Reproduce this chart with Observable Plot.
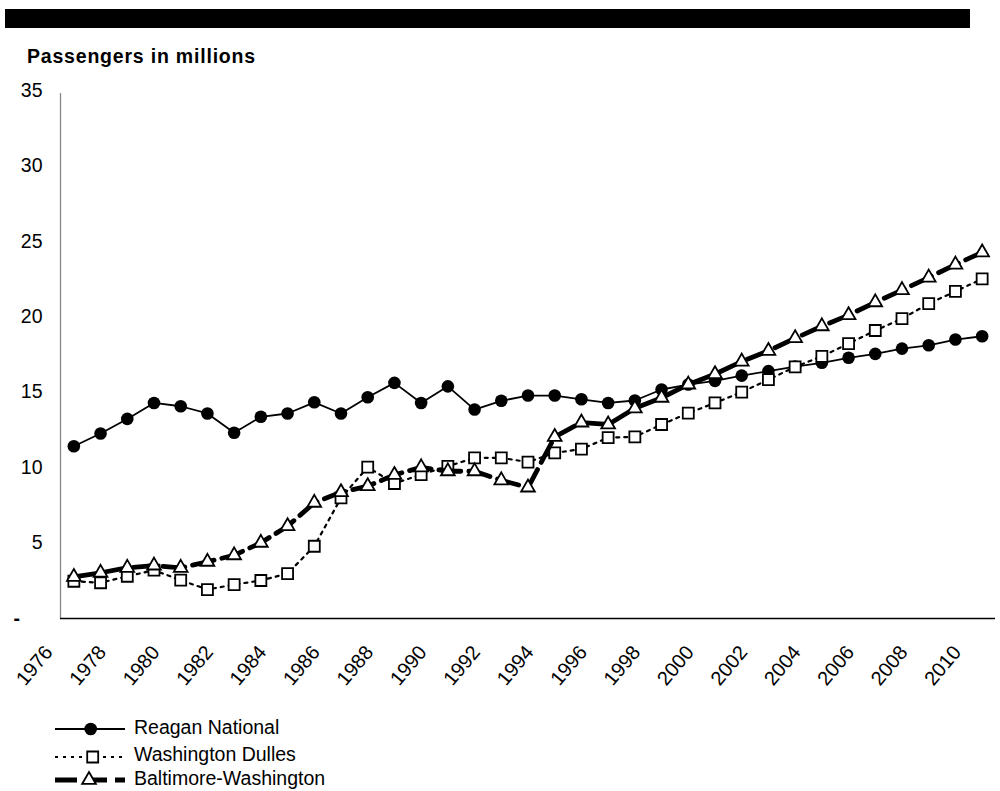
<!DOCTYPE html>
<html><head><meta charset="utf-8">
<script src="https://cdn.jsdelivr.net/npm/d3@7"></script>
<script src="https://cdn.jsdelivr.net/npm/@observablehq/plot@0.6"></script>
<style>
body{margin:0;background:#fff;font-family:"Liberation Sans",Arial,sans-serif;}
#wrap{position:relative;width:1000px;height:791px;overflow:hidden;background:#fff;}
#bar{position:absolute;left:5px;top:9px;width:965px;height:19px;background:#000;}
#title{position:absolute;left:27px;top:45px;font-weight:bold;font-size:19.5px;letter-spacing:0.8px;line-height:1.15;color:#000;}
#chart{position:absolute;left:0;top:0;}
#legend{position:absolute;left:0;top:705px;}
</style></head><body>
<div id="wrap"><div id="chart"></div><div id="bar"></div><div id="title">Passengers in millions</div><svg id="legend" width="400" height="86"></svg></div>
<script>
const years = d3.range(1976, 2011);
const seriesNames = ["Reagan National", "Washington Dulles", "Baltimore-Washington"];
const reagan = [11.42,12.26,13.23,14.29,14.07,13.59,12.31,13.37,13.59,14.33,13.59,14.67,15.62,14.29,15.39,13.85,14.43,14.78,14.78,14.53,14.29,14.45,15.18,15.51,15.75,16.10,16.40,16.70,16.95,17.28,17.54,17.89,18.11,18.49,18.71];
const dulles = [2.47,2.37,2.80,3.20,2.54,1.92,2.25,2.52,2.98,4.79,7.99,10.03,8.95,9.54,10.09,10.65,10.65,10.37,10.98,11.23,11.99,12.04,12.86,13.61,14.29,15.00,15.84,16.68,17.38,18.22,19.09,19.88,20.87,21.69,22.51];
const bwi = [2.76,3.03,3.36,3.51,3.36,3.76,4.19,5.02,6.12,7.67,8.37,8.77,9.52,10.02,9.76,9.76,9.16,8.68,12.04,12.99,12.86,13.93,14.63,15.51,16.20,17.03,17.74,18.58,19.37,20.11,20.96,21.77,22.60,23.46,24.27];
const yTicks = [5,10,15,20,25,30,35];
const xTicks = d3.range(1976, 2011, 2);

const rows = (vals) => years.map((y, i) => ({year: y, value: vals[i]}));
const R = rows(reagan), D = rows(dulles), B = rows(bwi);

const styles = {
  reagan: {stroke: "#000", strokeWidth: 1.8},
  dulles: {stroke: "#000", strokeWidth: 2.2, strokeDasharray: "3,5"},
  bwi: {stroke: "#000", strokeWidth: 4.8, strokeDasharray: "22,8"}
};

const chart = Plot.plot({
  width: 1000, height: 700,
  marginTop: 90, marginBottom: 82, marginLeft: 60, marginRight: 5,
  style: {fontFamily: "'Liberation Sans', Arial, sans-serif", fontSize: "19.5px", color: "#000", background: "transparent"},
  x: {domain: [1975.5, 2010.5]},
  y: {domain: [0, 35]},
  marks: [
    Plot.ruleX([1975.5], {y1: 0, y2: 34.8, stroke: "#888", strokeWidth: 1.3}),
    Plot.ruleY([0], {x1: 1975.5, x2: 2010.5, stroke: "#000", strokeWidth: 1.6}),
    Plot.line(R, {x: "year", y: "value", ...styles.reagan}),
    Plot.dot(R, {x: "year", y: "value", r: 6.3, fill: "#000", stroke: "none"}),
    Plot.line(D, {x: "year", y: "value", ...styles.dulles}),
    Plot.dot(D, {x: "year", y: "value", symbol: "square", r: 6.2, fill: "#fff", stroke: "#000", strokeWidth: 1.8}),
    Plot.line(B, {x: "year", y: "value", ...styles.bwi}),
    Plot.dot(B, {x: "year", y: "value", symbol: "triangle", r: 5.1, fill: "#fff", stroke: "#000", strokeWidth: 1.8}),
    Plot.axisY(yTicks, {tickSize: 0, tickPadding: 18, fontSize: 19.5, label: null}),
    Plot.text([0], {y: d => d, frameAnchor: "left", dx: -47, text: () => "-", textAnchor: "start", fontSize: 19.5, fontWeight: "bold"}),
    Plot.axisX(xTicks, {tickSize: 0, tickPadding: 20, tickRotate: -50, tickFormat: d => String(d), fontSize: 20, dx: -25, dy: 10, label: null})
  ]
});
document.getElementById("chart").appendChild(chart);

// Legend
const lg = d3.select("#legend");
const legendRows = [
  {name: seriesNames[0], y: 24, ty: 28.5, style: styles.reagan, mx: 90.7, sym: null},
  {name: seriesNames[1], y: 52, ty: 55.5, style: styles.dulles, mx: 92.7, sym: d3.symbolSquare, r: 6.2},
  {name: seriesNames[2], y: 75, ty: 79.5, style: styles.bwi, mx: 89, sym: d3.symbolTriangle, r: 5.1}
];
legendRows.forEach(row => {
  lg.append("line").attr("x1", 55).attr("x2", 125).attr("y1", row.y).attr("y2", row.y)
    .attr("stroke", row.style.stroke).attr("stroke-width", row.style.strokeWidth)
    .attr("stroke-dasharray", row.style.strokeDasharray || null);
  if (row.sym) {
    lg.append("path").attr("d", d3.symbol(row.sym, Math.PI * row.r * row.r)())
      .attr("transform", `translate(${row.mx},${row.y})`)
      .attr("fill", "#fff").attr("stroke", "#000").attr("stroke-width", 1.8);
  } else {
    lg.append("circle").attr("cx", row.mx).attr("cy", row.y).attr("r", 6.3).attr("fill", "#000");
  }
  lg.append("text").attr("x", 134).attr("y", row.ty).text(row.name)
    .attr("font-family", "'Liberation Sans', Arial, sans-serif").attr("font-size", 19.5).attr("fill", "#000");
});
</script>
</body></html>
